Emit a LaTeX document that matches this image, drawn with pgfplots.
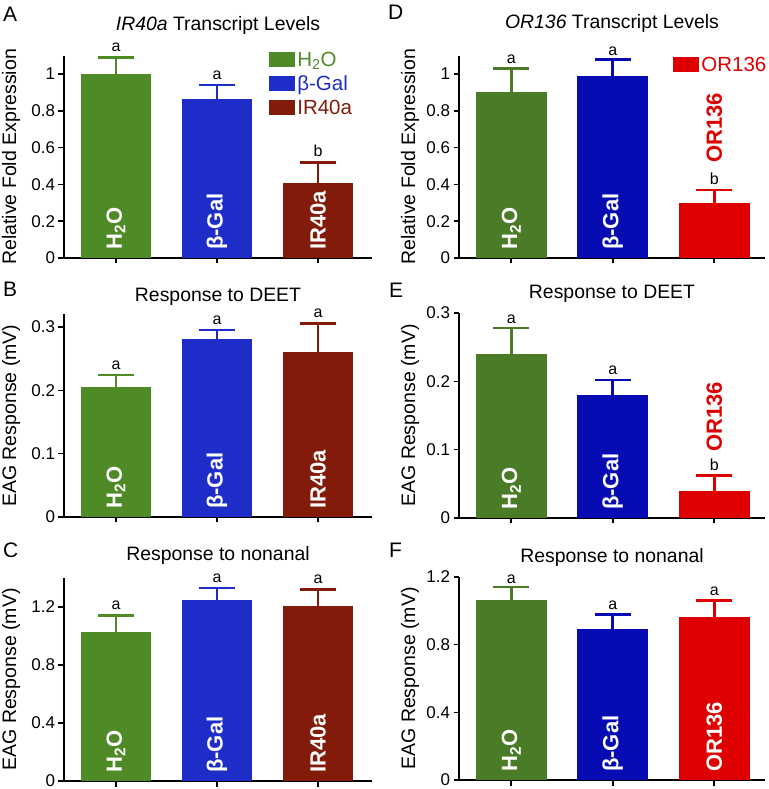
\documentclass[border=0pt]{standalone}
\usepackage{fontspec}
\setmainfont{Liberation Sans}
\usepackage{pgfplots}
\pgfplotsset{compat=1.18}

\definecolor{gA}{RGB}{78,139,38}
\definecolor{bA}{RGB}{30,45,200}
\definecolor{rA}{RGB}{130,27,10}
\definecolor{gD}{RGB}{74,123,39}
\definecolor{bD}{RGB}{6,12,178}
\definecolor{rD}{RGB}{222,0,0}

\newcommand{\fs}[1]{\fontsize{#1}{#1}\selectfont}

\tikzset{
 rlab/.style={rotate=90, anchor=west, inner sep=0pt, font=\fs{22}\bfseries},
 sig/.style={anchor=base, inner sep=0pt, font=\fs{16}},
}
\pgfplotsset{
 panel/.style={
  scale only axis, width=308pt,
  anchor=south west,
  xmin=-0.515, xmax=2.535, ymin=0,
  axis x line*=bottom, axis y line*=left,
  axis line style={line width=1.6pt, -},
  xtick={0,1,2}, xticklabels={,,},
  tick align=outside, major tick length=5.5pt,
  major tick style={black, line width=1.6pt},
  tick label style={font=\fs{17}},
  ylabel style={font=\fs{19.5}, at={(axis description cs:-0.172,0.5)}, anchor=center},
  title style={font=\fs{19.4}, at={(axis description cs:0.5,1)}, anchor=base},
  ybar, bar width=0.7,
  clip=false,
  legend image code/.code={\path[#1] (0pt,-7.5pt) rectangle (26pt,7.5pt);},
  legend cell align=left,
 },
 right panel/.style={width=306pt, xmin=-0.515, xmax=2.5,
  ylabel style={at={(axis description cs:-0.16,0.5)}}},
 b/.style={fill=#1, draw=none, bar shift=0pt,
   /pgfplots/error bars/y dir=plus, /pgfplots/error bars/y explicit,
   /pgfplots/error bars/error bar style={#1, line width=2.7pt},
   /pgfplots/error bars/error mark options={#1, rotate=90, line width=2.7pt, mark size=18pt}},
}

\begin{document}
\begin{tikzpicture}
\useasboundingbox (0,0) rectangle (768pt,789pt);

% Panel letters
\node[anchor=base west, inner sep=0pt, font=\fs{21}] at (3pt,767pt) {A};
\node[anchor=base west, inner sep=0pt, font=\fs{21}] at (3pt,492pt) {B};
\node[anchor=base west, inner sep=0pt, font=\fs{21}] at (3pt,231pt) {C};
\node[anchor=base west, inner sep=0pt, font=\fs{21}] at (388pt,769pt) {D};
\node[anchor=base west, inner sep=0pt, font=\fs{21}] at (389pt,491pt) {E};
\node[anchor=base west, inner sep=0pt, font=\fs{21}] at (389pt,231pt) {F};

% ---------------- A ----------------
\begin{axis}[panel, at={(64pt,531pt)}, height=202.4pt, ymax=1.1,
  ytick={0,0.2,0.4,0.6,0.8,1}, yticklabels={0,0.2,0.4,0.6,0.8,1},
  ylabel={Relative Fold Expression},
  title={\textit{IR40a} Transcript Levels}, title style={yshift=19pt},
  legend style={at={(axis description cs:0.666,1.03)}, anchor=north west, draw=none, fill=none,
    inner sep=0pt, row sep=4pt, font=\fs{20.5}, nodes={inner sep=2pt}}]
\addplot[b=gA] coordinates {(0,1.00) +- (0,0.09)};
\addlegendentry{\textcolor{gA}{H\textsubscript{2}O}}
\addplot[b=bA] coordinates {(1,0.864) +- (0,0.076)};
\addlegendentry{\textcolor{bA}{β-Gal}}
\addplot[b=rA] coordinates {(2,0.41) +- (0,0.11)};
\addlegendentry{\textcolor{rA}{IR40a}}
\node[sig] at ([yshift=6pt]axis cs:0,1.09) {a};
\node[sig] at ([yshift=6pt]axis cs:1,0.94) {a};
\node[sig] at ([yshift=6pt]axis cs:2,0.52) {b};
\node[rlab, text=white] at ([yshift=8pt]axis cs:0,0) {H\textsubscript{2}O};
\node[rlab, text=white] at ([yshift=8pt]axis cs:1,0) {β-Gal};
\node[rlab, text=white] at ([yshift=8pt]axis cs:2,0) {IR40a};
\end{axis}

% ---------------- D ----------------
\begin{axis}[panel, right panel, at={(459pt,531pt)}, height=202.4pt, ymax=1.1,
  ytick={0,0.2,0.4,0.6,0.8,1}, yticklabels={0,0.2,0.4,0.6,0.8,1},
  ylabel={Relative Fold Expression},
  title={\textit{OR136} Transcript Levels}, title style={yshift=21pt},
  legend style={at={(axis description cs:0.70,1.005)}, anchor=north west, draw=none, fill=none,
    inner sep=0pt, font=\fs{20.5}, nodes={inner sep=2pt}}]
\addplot[b=gD, forget plot] coordinates {(0,0.90) +- (0,0.13)};
\addplot[b=bD, forget plot] coordinates {(1,0.99) +- (0,0.09)};
\addplot[b=rD] coordinates {(2,0.30) +- (0,0.07)};
\addlegendentry{\textcolor{rD}{OR136}}
\node[sig] at ([yshift=5pt]axis cs:0,1.03) {a};
\node[sig] at ([yshift=4pt]axis cs:1,1.08) {a};
\node[sig] at ([yshift=5pt]axis cs:2,0.37) {b};
\node[rlab, text=white] at ([yshift=8pt]axis cs:0,0) {H\textsubscript{2}O};
\node[rlab, text=white] at ([yshift=8pt]axis cs:1,0) {β-Gal};
\node[rlab, text=rD] at (axis cs:2,0.516) {OR136};
\end{axis}

% ---------------- B ----------------
\begin{axis}[panel, at={(64pt,272pt)}, height=202.7pt, ymax=0.32,
  ytick={0,0.1,0.2,0.3}, yticklabels={0,0.1,0.2,0.3},
  ylabel={EAG Response (mV)},
  title={Response to DEET}, title style={yshift=7pt}]
\addplot[b=gA] coordinates {(0,0.205) +- (0,0.019)};
\addplot[b=bA] coordinates {(1,0.281) +- (0,0.014)};
\addplot[b=rA] coordinates {(2,0.261) +- (0,0.044)};
\node[sig] at ([yshift=6pt]axis cs:0,0.224) {a};
\node[sig] at ([yshift=6pt]axis cs:1,0.295) {a};
\node[sig] at ([yshift=6pt]axis cs:2,0.305) {a};
\node[rlab, text=white] at ([yshift=8pt]axis cs:0,0) {H\textsubscript{2}O};
\node[rlab, text=white] at ([yshift=8pt]axis cs:1,0) {β-Gal};
\node[rlab, text=white] at ([yshift=8pt]axis cs:2,0) {IR40a};
\end{axis}

% ---------------- E ----------------
\begin{axis}[panel, right panel, at={(459pt,271pt)}, height=205pt, ymax=0.3,
  ytick={0,0.1,0.2,0.3}, yticklabels={0,0.1,0.2,0.3},
  ylabel={EAG Response (mV)},
  title={Response to DEET}, title style={yshift=8pt}]
\addplot[b=gD] coordinates {(0,0.240) +- (0,0.038)};
\addplot[b=bD] coordinates {(1,0.180) +- (0,0.022)};
\addplot[b=rD] coordinates {(2,0.040) +- (0,0.022)};
\node[sig] at ([yshift=5pt]axis cs:0,0.278) {a};
\node[sig] at ([yshift=5pt]axis cs:1,0.202) {a};
\node[sig] at ([yshift=5pt]axis cs:2,0.062) {b};
\node[rlab, text=white] at ([yshift=8pt]axis cs:0,0) {H\textsubscript{2}O};
\node[rlab, text=white] at ([yshift=8pt]axis cs:1,0) {β-Gal};
\node[rlab, text=rD] at (axis cs:2,0.097) {OR136};
\end{axis}

% ---------------- C ----------------
\begin{axis}[panel, at={(64pt,8pt)}, height=203pt, ymax=1.4,
  ytick={0,0.4,0.8,1.2}, yticklabels={0,0.4,0.8,1.2},
  ylabel={EAG Response (mV)},
  title={Response to nonanal}, title style={yshift=11pt}]
\addplot[b=gA] coordinates {(0,1.025) +- (0,0.115)};
\addplot[b=bA] coordinates {(1,1.245) +- (0,0.085)};
\addplot[b=rA] coordinates {(2,1.205) +- (0,0.115)};
\node[sig] at ([yshift=6pt]axis cs:0,1.14) {a};
\node[sig] at ([yshift=6pt]axis cs:1,1.33) {a};
\node[sig] at ([yshift=6pt]axis cs:2,1.32) {a};
\node[rlab, text=white] at ([yshift=8pt]axis cs:0,0) {H\textsubscript{2}O};
\node[rlab, text=white] at ([yshift=8pt]axis cs:1,0) {β-Gal};
\node[rlab, text=white] at ([yshift=8pt]axis cs:2,0) {IR40a};
\end{axis}

% ---------------- F ----------------
\begin{axis}[panel, right panel, at={(459pt,9pt)}, height=203pt, ymax=1.2,
  ytick={0,0.4,0.8,1.2}, yticklabels={0,0.4,0.8,1.2},
  ylabel={EAG Response (mV)},
  title={Response to nonanal}, title style={yshift=8pt}]
\addplot[b=gD] coordinates {(0,1.065) +- (0,0.075)};
\addplot[b=bD] coordinates {(1,0.893) +- (0,0.087)};
\addplot[b=rD] coordinates {(2,0.964) +- (0,0.096)};
\node[sig] at ([yshift=4pt]axis cs:0,1.14) {a};
\node[sig] at ([yshift=5pt]axis cs:1,0.98) {a};
\node[sig] at ([yshift=5pt]axis cs:2,1.06) {a};
\node[rlab, text=white] at ([yshift=8pt]axis cs:0,0) {H\textsubscript{2}O};
\node[rlab, text=white] at ([yshift=8pt]axis cs:1,0) {β-Gal};
\node[rlab, text=white] at ([yshift=8pt]axis cs:2,0) {OR136};
\end{axis}
\end{tikzpicture}
\end{document}
